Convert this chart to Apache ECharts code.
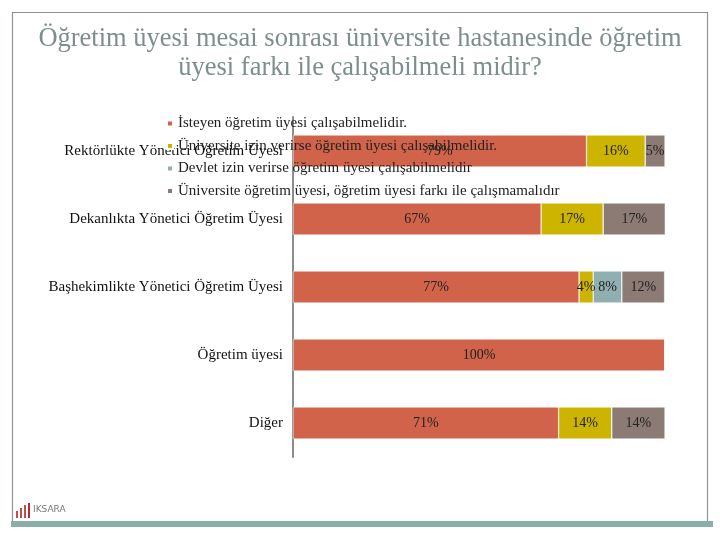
<!DOCTYPE html>
<html><head><meta charset="utf-8">
<script src="https://cdn.jsdelivr.net/npm/echarts@6/dist/echarts.min.js"></script>
<style>html,body{margin:0;padding:0;background:#fff}#c{width:720px;height:540px}</style>
</head><body><div id="c"></div>
<script>
const categories = ["Rektörlükte Yönetici Öğretim Üyesi","Dekanlıkta Yönetici Öğretim Üyesi","Başhekimlikte Yönetici Öğretim Üyesi","Öğretim üyesi","Diğer"];
const seriesNames = ["İsteyen öğretim üyesi çalışabilmelidir.","Üniversite izin verirse öğretim üyesi çalışabilmelidir.","Devlet izin verirse öğretim üyesi çalışabilmelidir","Üniversite öğretim üyesi, öğretim üyesi farkı ile çalışmamalıdır"];
const isteyen   = [78.9, 66.7, 76.9, 100, 71.4];
const universite= [15.8, 16.7, 3.8, 0, 14.3];
const devlet    = [0, 0, 7.7, 0, 0];
const calismama = [5.3, 16.7, 11.5, 0, 14.3];
const colors = ["#D0634A","#CCB400","#8FAFB0","#8B7B74"];
const values = [isteyen, universite, devlet, calismama];

const chart = echarts.init(document.getElementById('c'));
const FONT = "Liberation Serif";
chart.setOption({
  animation:false,
  title:{text:"Öğretim üyesi mesai sonrası üniversite hastanesinde öğretim\nüyesi farkı ile çalışabilmeli midir?",left:'center',top:20,
    textStyle:{fontFamily:FONT,fontSize:26.5,fontWeight:'normal',color:'#7E8E8E',lineHeight:29}},
  legend:{orient:'vertical',left:161,top:111,itemWidth:6,itemHeight:6,itemGap:7.5,icon:'rect',
    textStyle:{fontFamily:FONT,fontSize:15,color:'#222'},data:seriesNames},
  grid:{left:293,right:55,top:117,bottom:83},
  xAxis:{type:'value',min:0,max:100,show:false},
  yAxis:{type:'category',inverse:true,data:categories,
    axisLine:{lineStyle:{color:'#8C8C8C',width:2}},axisTick:{show:false},
    axisLabel:{fontFamily:FONT,fontSize:15,color:'#111',margin:10}},
  series: values.map((v,i)=>({
    name:seriesNames[i],type:'bar',stack:'a',barWidth:32,
    itemStyle:{color:colors[i],borderColor:'#fff',borderWidth:0.5},
    label:{show:true,position:'inside',fontFamily:FONT,fontSize:14,color:'#222',
      formatter:p=>p.value>0?Math.round(p.value)+'%':''},
    data:v
  })),
  graphic:[
    {type:'rect',shape:{x:12.5,y:12.5,width:695,height:511},style:{fill:'none',stroke:'#8C9494',lineWidth:1.2},silent:true},
    {type:'rect',shape:{x:11,y:521,width:702,height:6},style:{fill:'#8AAFA9'},silent:true},
    {type:'rect',shape:{x:16,y:511,width:2,height:7},style:{fill:'#C0504D'}},
    {type:'rect',shape:{x:20,y:508,width:2,height:10},style:{fill:'#C0504D'}},
    {type:'rect',shape:{x:24,y:505,width:2,height:13},style:{fill:'#C0504D'}},
    {type:'rect',shape:{x:28,y:503,width:2,height:15},style:{fill:'#B03030'}},
    {type:'text',left:33,top:505,style:{text:'IKSARA',fontFamily:'DejaVu Sans',fontSize:9,fill:'#777'}}
  ]
});
</script></body></html>
